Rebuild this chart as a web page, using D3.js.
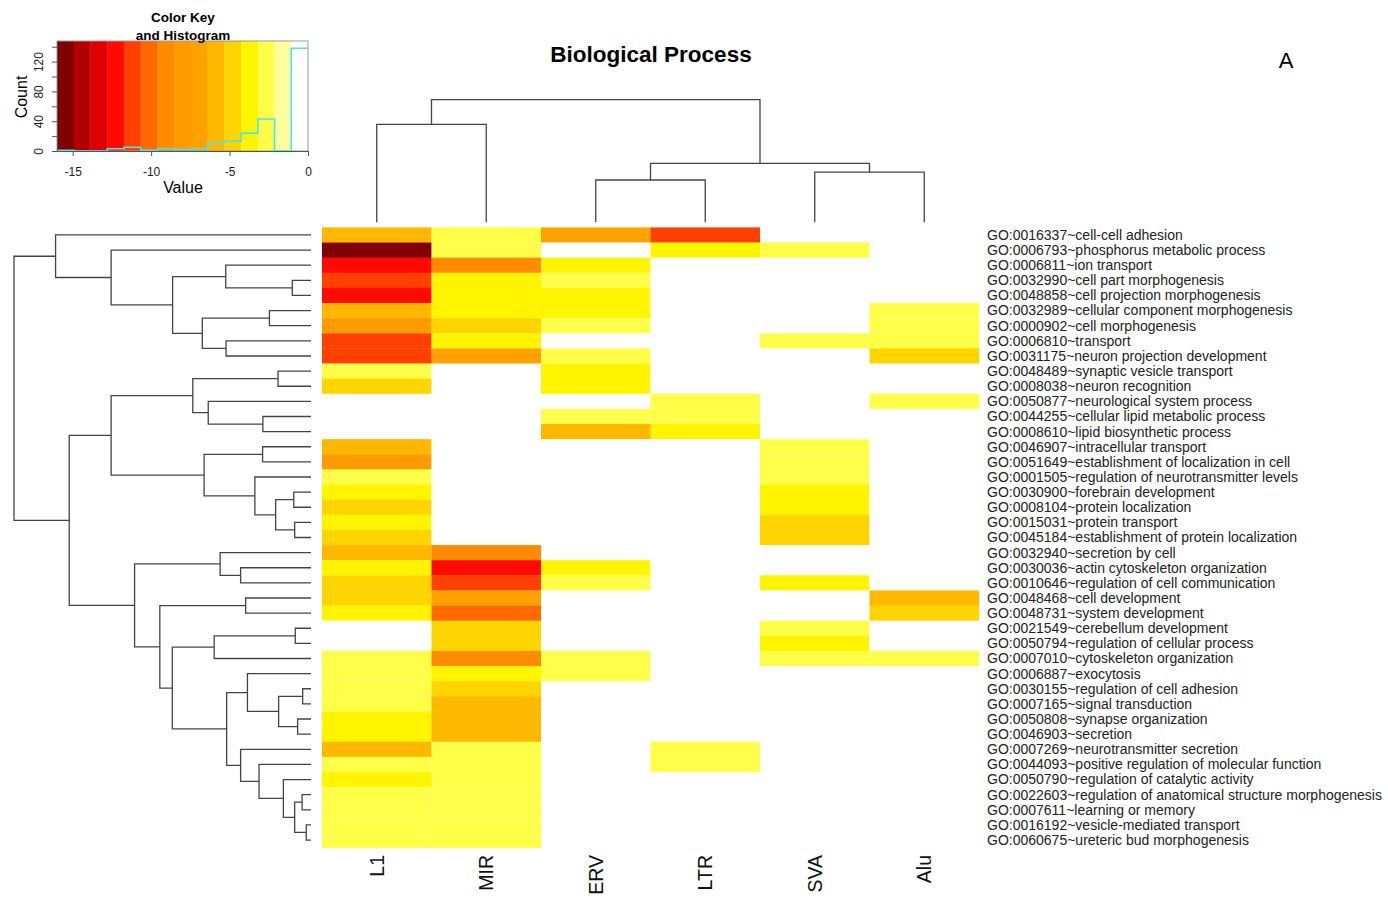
<!DOCTYPE html>
<html>
<head>
<meta charset="utf-8">
<script src="https://cdn.jsdelivr.net/npm/d3@7"></script>
<style>
  body { margin: 0; background: #fff; }
  text { font-family: "Liberation Sans", Arial, sans-serif; }
</style>
</head>
<body>
<script>
// ---- data ----
var colLabels = ["L1", "MIR", "ERV", "LTR", "SVA", "Alu"];

var rowLabels = [
  "GO:0016337~cell-cell adhesion",
  "GO:0006793~phosphorus metabolic process",
  "GO:0006811~ion transport",
  "GO:0032990~cell part morphogenesis",
  "GO:0048858~cell projection morphogenesis",
  "GO:0032989~cellular component morphogenesis",
  "GO:0000902~cell morphogenesis",
  "GO:0006810~transport",
  "GO:0031175~neuron projection development",
  "GO:0048489~synaptic vesicle transport",
  "GO:0008038~neuron recognition",
  "GO:0050877~neurological system process",
  "GO:0044255~cellular lipid metabolic process",
  "GO:0008610~lipid biosynthetic process",
  "GO:0046907~intracellular transport",
  "GO:0051649~establishment of localization in cell",
  "GO:0001505~regulation of neurotransmitter levels",
  "GO:0030900~forebrain development",
  "GO:0008104~protein localization",
  "GO:0015031~protein transport",
  "GO:0045184~establishment of protein localization",
  "GO:0032940~secretion by cell",
  "GO:0030036~actin cytoskeleton organization",
  "GO:0010646~regulation of cell communication",
  "GO:0048468~cell development",
  "GO:0048731~system development",
  "GO:0021549~cerebellum development",
  "GO:0050794~regulation of cellular process",
  "GO:0007010~cytoskeleton organization",
  "GO:0006887~exocytosis",
  "GO:0030155~regulation of cell adhesion",
  "GO:0007165~signal transduction",
  "GO:0050808~synapse organization",
  "GO:0046903~secretion",
  "GO:0007269~neurotransmitter secretion",
  "GO:0044093~positive regulation of molecular function",
  "GO:0050790~regulation of catalytic activity",
  "GO:0022603~regulation of anatomical structure morphogenesis",
  "GO:0007611~learning or memory",
  "GO:0016192~vesicle-mediated transport",
  "GO:0060675~ureteric bud morphogenesis"
];

// one value per row, top to bottom (0 = not enriched)
var L1  = [-5.8,-15.4,-12.3,-11.2,-12.3,-5.8,-8.0,-11.2,-11.2,-2.6,-4.8,0,0,0,-5.8,-8.1,-2.6,-3.7,-4.8,-3.7,-4.8,
           -5.8,-3.7,-4.8,-4.8,-3.7,0,0,-2.6,-2.6,-2.6,-2.6,-3.7,-3.7,-5.8,-2.6,-3.7,-2.6,-2.6,-2.6,-2.6];
var MIR = [-2.6,-2.6,-9.0,-3.7,-3.7,-3.7,-4.8,-3.7,-6.9,0,0,0,0,0,0,0,0,0,0,0,0,
           -9.0,-12.3,-11.2,-6.9,-10.1,-4.8,-4.8,-9.0,-3.7,-4.8,-5.8,-5.8,-5.8,-2.6,-2.6,-2.6,-2.6,-2.6,-2.6,-2.6];
var ERV = [-6.9,0,-3.7,-2.6,-3.7,-3.7,-2.6,0,-2.6,-3.7,-3.7,0,-2.6,-5.8,0,0,0,0,0,0,0,
           0,-3.7,-2.6,0,0,0,0,-2.6,-2.6,0,0,0,0,0,0,0,0,0,0,0];
var LTR = [-11.2,-3.7,0,0,0,0,0,0,0,0,0,-2.6,-2.6,-3.7,0,0,0,0,0,0,0,
           0,0,0,0,0,0,0,0,0,0,0,0,0,-2.6,-2.6,0,0,0,0,0];
var SVA = [0,-2.6,0,0,0,0,0,-2.6,0,0,0,0,0,0,-2.6,-2.6,-2.6,-3.7,-3.7,-4.8,-4.8,
           0,0,-3.7,0,0,-2.6,-3.7,-2.6,0,0,0,0,0,0,0,0,0,0,0,0];
var Alu = [0,0,0,0,0,-2.6,-2.6,-2.6,-4.8,0,0,-2.6,0,0,0,0,0,0,0,0,0,
           0,0,0,-5.8,-4.8,0,0,-2.6,0,0,0,0,0,0,0,0,0,0,0,0];

// dendrograms: [height, left, right], leaves are row / column indexes
var rowTree = [10.0,
  [8.60, 0, [6.73, 1, [4.66, [2.87, 2, [0.63, 3, 4]], [3.66, [1.40, 5, 6], [2.86, 7, 8]]]]],
  [8.14,
    [6.73, [3.98, [1.11, 9, 10], [3.46, 11, [1.62, 12, 13]]],
           [3.60, [1.63, 14, 15], [1.89, 16, [1.19, [0.58, 17, 18], [0.55, 19, 20]]]]],
    [5.94, [3.06, 21, [2.37, 22, 23]],
           [5.09, [2.20, 24, 25],
                  [4.67, [3.26, [0.53, 26, 27], 28],
                         [2.84, [2.14, 29, [1.09, [0.28, 30, 31], [0.45, 32, 33]]],
                                [2.37, 34, [1.75, 35, [0.93, 36, [0.55, [0.30, 37, 38], [0.16, 39, 40]]]]]]]]]]];
var colTree = [10.0, [7.99, 0, 1], [4.81, [3.45, 2, 3], [4.10, 4, 5]]];

// colour key: 15 bins from -16 to 0
var keyColors = ["#800000", "#b00000", "#dd0000", "#ff0a00", "#ff4000", "#ff6a00", "#ff8c00",
                 "#ff9a00", "#ffa200", "#ffb800", "#ffd500", "#fff500", "#ffff4a", "#ffffa0", "#ffffff"];
var keyMin = -16, keyMax = 0;

// ---- layout ----
var svg = d3.select("body").append("svg").attr("width", 1388).attr("height", 900);

var series = [L1, MIR, ERV, LTR, SVA, Alu];
var cells = [];
series.forEach(function(col, j) {
  col.forEach(function(v, i) { cells.push({row: i, col: colLabels[j], value: v}); });
});

var breaks = d3.range(keyColors.length + 1).map(function(i) {
  return keyMin + i * (keyMax - keyMin) / keyColors.length;
});
var color = d3.scaleThreshold().domain(breaks.slice(1, -1)).range(keyColors);

var x = d3.scaleBand().domain(colLabels).range([322, 979]);
var y = d3.scaleBand().domain(d3.range(rowLabels.length)).range([227.4, 847.6]);

// heatmap cells
svg.append("g").selectAll("rect")
  .data(cells)
  .enter().append("rect")
    .attr("x", function(d) { return x(d.col); })
    .attr("y", function(d) { return y(d.row); })
    .attr("width", x.bandwidth() + 0.3)
    .attr("height", y.bandwidth() + 0.3)
    .attr("fill", function(d) { return color(d.value); });

// row labels
svg.append("g").selectAll("text")
  .data(rowLabels)
  .enter().append("text")
    .attr("x", 987)
    .attr("y", function(d, i) { return y(i) + y.bandwidth() / 2; })
    .attr("dy", "0.35em")
    .attr("font-size", 14)
    .attr("fill", "#222")
    .text(function(d) { return d; });

// column labels
svg.append("g").selectAll("text")
  .data(colLabels)
  .enter().append("text")
    .attr("transform", function(d) { return "translate(" + (x(d) + x.bandwidth() / 2) + ",855) rotate(-90)"; })
    .attr("dy", "0.35em")
    .attr("text-anchor", "end")
    .attr("font-size", 19.5)
    .attr("fill", "#111")
    .text(function(d) { return d; });

// dendrograms
var rowH = d3.scaleLinear().domain([0, 10]).range([311, 14]);
var colH = d3.scaleLinear().domain([0, 10]).range([222.3, 99.7]);
var rowMid = function(i) { return y(i) + y.bandwidth() / 2; };
var colMid = function(i) { return x(colLabels[i]) + x.bandwidth() / 2; };

function walk(node, pos, out) {
  if (typeof node === "number") return {p: pos(node), h: 0};
  var a = walk(node[1], pos, out), b = walk(node[2], pos, out);
  out.push({h: node[0], a: a, b: b});
  return {p: (a.p + b.p) / 2, h: node[0]};
}

var rowLinks = [];
walk(rowTree, rowMid, rowLinks);
svg.append("g").selectAll("path")
  .data(rowLinks)
  .enter().append("path")
    .attr("d", function(d) {
      return "M" + rowH(d.a.h) + "," + d.a.p + "H" + rowH(d.h) + "V" + d.b.p + "H" + rowH(d.b.h);
    })
    .attr("fill", "none").attr("stroke", "#444").attr("stroke-width", 1.3);

var colLinks = [];
walk(colTree, colMid, colLinks);
svg.append("g").selectAll("path")
  .data(colLinks)
  .enter().append("path")
    .attr("d", function(d) {
      return "M" + d.a.p + "," + colH(d.a.h) + "V" + colH(d.h) + "H" + d.b.p + "V" + colH(d.b.h);
    })
    .attr("fill", "none").attr("stroke", "#444").attr("stroke-width", 1.3);

// titles
svg.append("text")
  .attr("x", 651).attr("y", 62)
  .attr("text-anchor", "middle")
  .attr("font-size", 22.5).attr("font-weight", "bold")
  .text("Biological Process");

svg.append("text")
  .attr("x", 1286).attr("y", 68)
  .attr("text-anchor", "middle")
  .attr("font-size", 22)
  .text("A");

// ---- colour key and histogram ----
var allValues = [].concat.apply([], series);
var hist = d3.bin().domain([keyMin, keyMax]).thresholds(breaks.slice(1, -1))(allValues);
var maxCount = d3.max(hist, function(b) { return b.length; });

var kx = d3.scaleLinear().domain([keyMin, keyMax]).range([57, 308]);
var ky = d3.scaleLinear().domain([0, maxCount * 1.07]).range([151, 41]);
var key = svg.append("g");

key.selectAll("rect.bin")
  .data(keyColors)
  .enter().append("rect")
    .attr("class", "bin")
    .attr("x", function(d, i) { return kx(breaks[i]); })
    .attr("y", ky.range()[1])
    .attr("width", function(d, i) { return kx(breaks[i + 1]) - kx(breaks[i]) + 0.3; })
    .attr("height", ky.range()[0] - ky.range()[1])
    .attr("fill", function(d) { return d; });

key.append("rect")
  .attr("x", 57).attr("y", 41).attr("width", 251).attr("height", 110)
  .attr("fill", "none").attr("stroke", "#999").attr("stroke-width", 1);

var stepPts = [];
hist.forEach(function(b) {
  stepPts.push([kx(b.x0), ky(b.length)]);
  stepPts.push([kx(b.x1), ky(b.length)]);
});
key.append("path")
  .attr("d", d3.line()(stepPts))
  .attr("fill", "none").attr("stroke", "#40e8f0").attr("stroke-width", 1.6);

var xAxis = key.append("g")
  .attr("transform", "translate(0,151)")
  .call(d3.axisBottom(kx).tickValues([-15, -10, -5, 0]).tickSize(5).tickSizeOuter(0)
        .tickFormat(function(d) { return d < 0 ? "-" + (-d) : d; }));
xAxis.select(".domain").attr("stroke", "#555");
xAxis.selectAll(".tick line").attr("stroke", "#555");
xAxis.selectAll("text").attr("font-size", 12).attr("fill", "#222").attr("y", 16)
  .attr("font-family", "Liberation Sans, Arial, sans-serif");

var yAxis = key.append("g")
  .attr("transform", "translate(57,0)")
  .call(d3.axisLeft(ky).tickValues(d3.range(0, 141, 20)).tickSize(5).tickSizeOuter(0)
        .tickFormat(function(d) { return d % 40 === 0 ? d : ""; }));
yAxis.select(".domain").attr("stroke", "#555");
yAxis.selectAll(".tick line").attr("stroke", "#555");
yAxis.selectAll("text")
  .attr("font-size", 12).attr("fill", "#222").attr("font-family", "Liberation Sans, Arial, sans-serif")
  .attr("x", null).attr("dy", null)
  .attr("text-anchor", "middle")
  .attr("transform", "translate(-14,0) rotate(-90)");

key.append("text")
  .attr("transform", "translate(27,97) rotate(-90)")
  .attr("text-anchor", "middle")
  .attr("font-size", 16)
  .text("Count");

key.append("text")
  .attr("x", 183).attr("y", 193)
  .attr("text-anchor", "middle")
  .attr("font-size", 16)
  .text("Value");

key.append("text")
  .attr("x", 183).attr("y", 22)
  .attr("text-anchor", "middle")
  .attr("font-size", 13.5).attr("font-weight", "bold")
  .text("Color Key");

key.append("text")
  .attr("x", 183).attr("y", 40)
  .attr("text-anchor", "middle")
  .attr("font-size", 13.5).attr("font-weight", "bold")
  .text("and Histogram");
</script>
</body>
</html>
